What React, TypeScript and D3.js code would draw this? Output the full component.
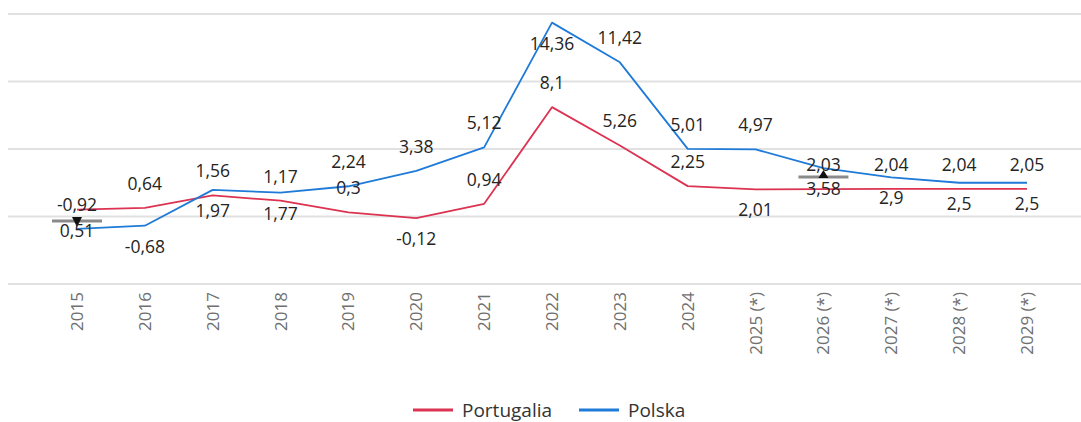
import React from "react";
import * as d3 from "d3";

const categories = ["2015", "2016", "2017", "2018", "2019", "2020", "2021", "2022", "2023", "2024", "2025 (*)", "2026 (*)", "2027 (*)", "2028 (*)", "2029 (*)"];
const portugalia = [0.51, 0.64, 1.56, 1.17, 0.3, -0.12, 0.94, 8.1, 5.26, 2.25, 2.01, 2.03, 2.04, 2.04, 2.05];
const polska = [-0.92, -0.68, 1.97, 1.77, 2.24, 3.38, 5.12, 14.36, 11.42, 5.01, 4.97, 3.58, 2.9, 2.5, 2.5];
const labelSidePortugalia = ["below", "above", "above", "above", "above", "below", "above", "above", "above", "above", "below", "above", "above", "above", "above"];
const labelSidePolska = ["above", "below", "below", "below", "above", "above", "above", "below", "above", "above", "above", "below", "below", "below", "below"];
const gridValues = [-5, 0, 5, 10, 15];
const markers = [
  { category: "2015", value: -0.33, dir: "down" },
  { category: "2026 (*)", value: 2.93, dir: "up" },
];

const W = 1081;
const H = 422;
const FONT = "'Segoe UI', 'Open Sans', sans-serif";
const RED = "#dc3352";
const BLUE = "#1f7ad8";

export default function App() {
  const x = d3.scalePoint<string>().domain(categories).range([77, 1027]);
  const y = d3.scaleLinear().domain([-5, 15]).range([284, 14]);
  const line = d3
    .line<number>()
    .x((_, i) => x(categories[i]) as number)
    .y((d) => y(d));
  const fmt = (v: number) => String(v).replace(".", ",");

  const series = [
    { name: "Portugalia", values: portugalia, sides: labelSidePortugalia, color: RED },
    { name: "Polska", values: polska, sides: labelSidePolska, color: BLUE },
  ];

  return (
    <svg width={W} height={H} style={{ position: "absolute", left: 0, top: 0, background: "#fff" }} fontFamily={FONT}>
      {gridValues.map((g) => (
        <line key={g} x1={8} x2={W} y1={y(g)} y2={y(g)} stroke="#e1e1e1" strokeWidth={2} />
      ))}
      {series.map((s) => (
        <path key={s.name} d={line(s.values) || ""} fill="none" stroke={s.color} strokeWidth={1.8} strokeLinejoin="round" />
      ))}
      {markers.map((m, i) => {
        const cx = x(m.category) as number;
        const cy = y(m.value);
        const tri =
          m.dir === "down"
            ? `M${cx - 5},${cy - 4} L${cx + 5},${cy - 4} L${cx},${cy + 6} Z`
            : `M${cx - 5},${cy + 1} L${cx + 5},${cy + 1} L${cx},${cy - 7} Z`;
        return (
          <g key={i}>
            <line x1={cx - 25} x2={cx + 25} y1={cy} y2={cy} stroke="#8a8a8a" strokeWidth={3} />
            <path d={tri} fill="#111" />
          </g>
        );
      })}
      {series.map((s) =>
        s.values.map((v, i) => {
          const px = x(categories[i]) as number;
          const py = y(v) + (s.sides[i] === "above" ? -25 : 20);
          return (
            <text key={s.name + i} x={px} y={py} textAnchor="middle" dominantBaseline="central" fontSize={17.5} fill="#252423">
              {fmt(v)}
            </text>
          );
        })
      )}
      {categories.map((c) => (
        <text
          key={c}
          transform={`translate(${x(c)},292) rotate(-90)`}
          textAnchor="end"
          dy="0.35em"
          fontSize={17}
          fill="#6f6f6f"
        >
          {c}
        </text>
      ))}
      <g>
        <line x1={413} x2={453} y1={410} y2={410} stroke={RED} strokeWidth={3} />
        <text x={462} y={410} dominantBaseline="central" fontSize={19} fill="#333">Portugalia</text>
        <line x1={579} x2={619} y1={410} y2={410} stroke={BLUE} strokeWidth={3} />
        <text x={628} y={410} dominantBaseline="central" fontSize={19} fill="#333">Polska</text>
      </g>
    </svg>
  );
}
